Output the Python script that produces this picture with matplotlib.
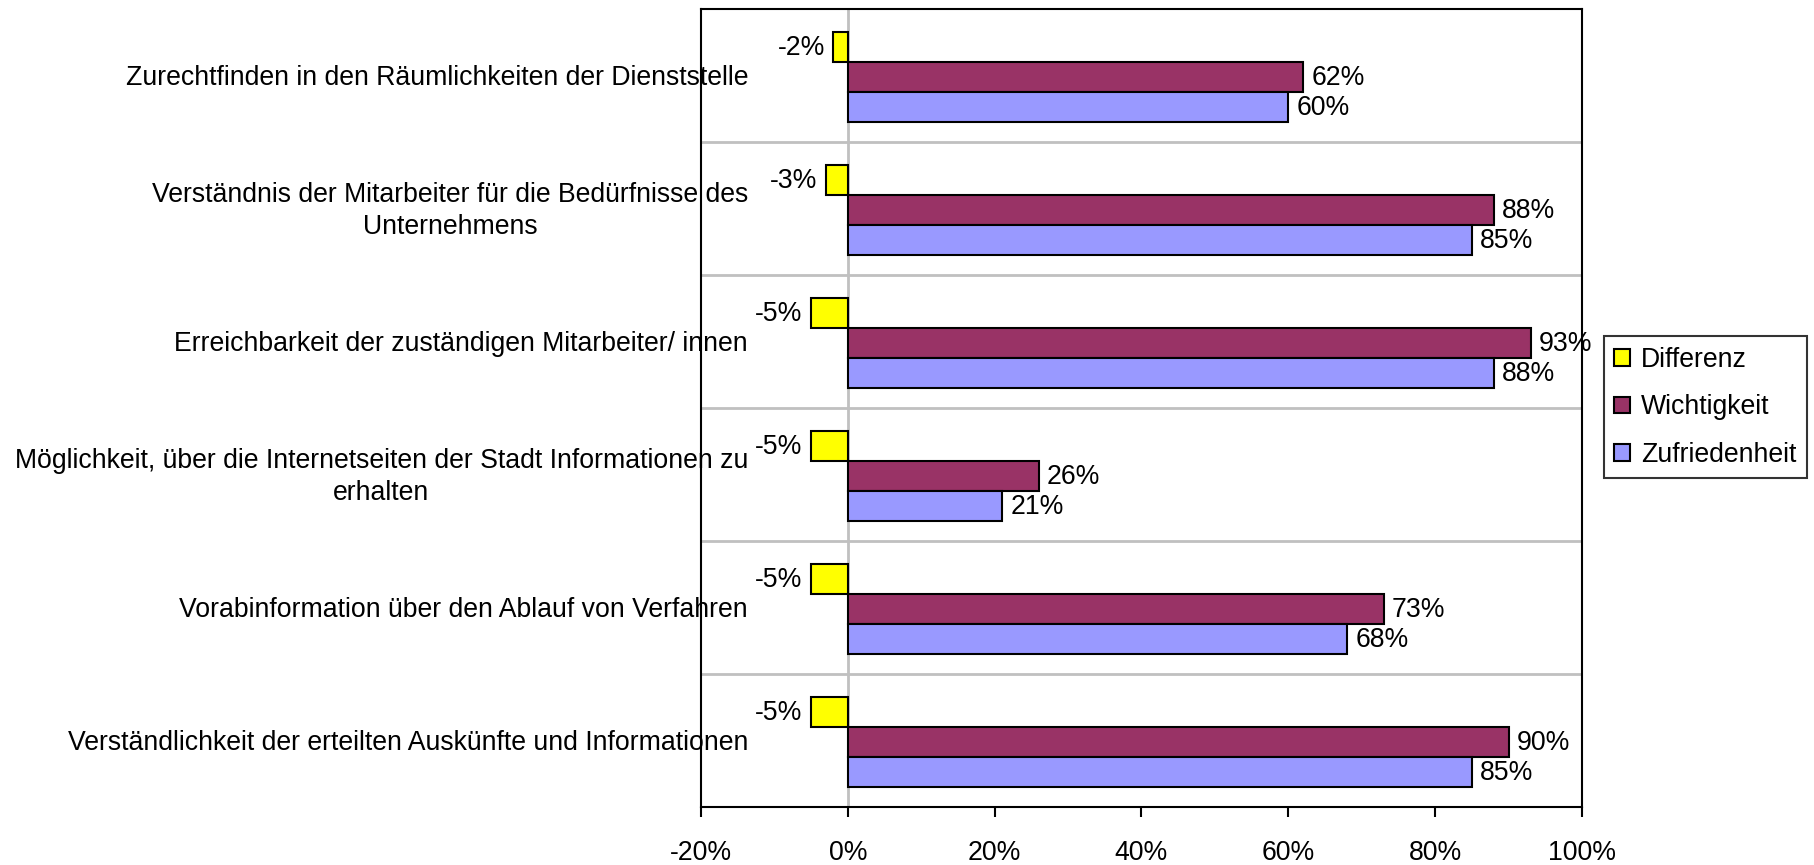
import matplotlib
matplotlib.use("Agg")
import matplotlib.pyplot as plt
from matplotlib.patches import Patch
from matplotlib.transforms import blended_transform_factory
import numpy as np

categories = [
    "Zurechtfinden in den Räumlichkeiten der Dienststelle",
    "Verständnis der Mitarbeiter für die Bedürfnisse des\nUnternehmens",
    "Erreichbarkeit der zuständigen Mitarbeiter/ innen",
    "Möglichkeit, über die Internetseiten der Stadt Informationen zu\nerhalten",
    "Vorabinformation über den Ablauf von Verfahren",
    "Verständlichkeit der erteilten Auskünfte und Informationen",
]
differenz = [-2, -3, -5, -5, -5, -5]
wichtigkeit = [62, 88, 93, 26, 73, 90]
zufriedenheit = [60, 85, 88, 21, 68, 85]
series_names = ["Differenz", "Wichtigkeit", "Zufriedenheit"]
colors = ["#FFFF00", "#993366", "#9999FF"]
xticks = [-20, 0, 20, 40, 60, 80, 100]

plt.rcParams['font.family'] = ['Liberation Sans', 'DejaVu Sans']
FS = 19.2

fig = plt.figure(figsize=(18.14, 8.65), dpi=100)
ax = fig.add_axes([0.3864, 0.0671, 0.8721 - 0.3864, 0.9896 - 0.0671])

y = np.arange(len(categories))
h = 0.2256
offsets = [-h + 0.01, 0.01, h + 0.01]
series = [differenz, wichtigkeit, zufriedenheit]

for vals, off, col in zip(series, offsets, colors):
    bars = ax.barh(y + off, vals, height=h, color=col, edgecolor="black",
                   linewidth=1.5, zorder=3)
    for b, v in zip(bars, vals):
        yc = b.get_y() + b.get_height() / 2
        if v < 0:
            ax.annotate(f"{v:.0f}%", (v, yc), xytext=(-6, -1), textcoords="offset points",
                        ha="right", va="center", fontsize=FS, zorder=4)
        else:
            ax.annotate(f"{v:.0f}%", (v, yc), xytext=(6, -1), textcoords="offset points",
                        ha="left", va="center", fontsize=FS, zorder=4)

ax.set_xlim(-20, 100)
ax.set_ylim(len(categories) - 0.5, -0.5)
ax.set_xticks(xticks)
ax.set_xticklabels([f"{t}%" for t in xticks], fontsize=FS)
ax.tick_params(axis="x", direction="out", length=7, width=1.5, pad=17)
ax.set_yticks([])

# gridlines at category boundaries
for b in np.arange(0.5, len(categories) - 0.5, 1):
    ax.axhline(b, color="#c0c0c0", lw=2, zorder=1)
ax.axvline(0, color="#c0c0c0", lw=2, zorder=1)

for s in ax.spines.values():
    s.set_color("black")
    s.set_linewidth(1.5)

trans = blended_transform_factory(ax.transAxes, ax.transData)
for i, c in enumerate(categories):
    ax.text(0.0535, i + 0.02, c, transform=trans, ha="right", va="center",
            multialignment="center", fontsize=FS, linespacing=1.3, zorder=5,
            clip_on=False)

handles = [Patch(facecolor=col, edgecolor="black", linewidth=1.5) for col in colors]
leg = fig.legend(handles, series_names, loc="center left",
                 bbox_to_anchor=(0.884, 0.529), bbox_transform=fig.transFigure,
                 fontsize=FS, frameon=True, fancybox=False, handlelength=0.6,
                 handleheight=0.6, handletextpad=0.4, labelspacing=0.8,
                 borderpad=0.4, borderaxespad=0)
leg.get_frame().set_edgecolor("black")
leg.get_frame().set_linewidth(1.5)

fig.savefig("out.png", dpi=100)
